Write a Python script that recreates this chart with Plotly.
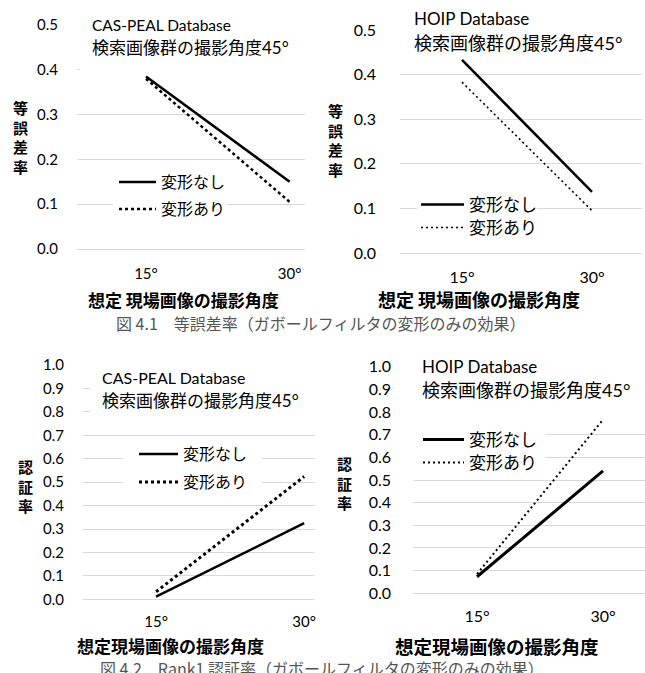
import plotly.graph_objects as go

# ---------------- data ----------------
angles = [15, 30]
angle_labels = ["15°", "30°"]
series_names = ["変形なし", "変形あり"]

eer_caspeal_nodeform = [0.385, 0.150]
eer_caspeal_deform = [0.380, 0.105]
eer_hoip_nodeform = [0.433, 0.137]
eer_hoip_deform = [0.383, 0.095]

rank1_caspeal_nodeform = [0.011, 0.325]
rank1_caspeal_deform = [0.032, 0.524]
rank1_hoip_nodeform = [0.073, 0.540]
rank1_hoip_deform = [0.085, 0.766]

eer_ticks = [0.0, 0.1, 0.2, 0.3, 0.4, 0.5]
rank1_ticks = [0.0, 0.1, 0.2, 0.3, 0.4, 0.5, 0.6, 0.7, 0.8, 0.9, 1.0]

db_caspeal = "CAS-PEAL Database"
db_hoip = "HOIP Database"
query_text = "検索画像群の撮影角度45°"
xtitle_a = "想定 現場画像の撮影角度"
xtitle_b = "想定現場画像の撮影角度"
ytitle_eer = "等誤差率"
ytitle_rank1 = "認証率"
caption1 = "図 4.1　等誤差率（ガボールフィルタの変形のみの効果）"
caption2 = "図 4.2　Rank1 認証率（ガボールフィルタの変形のみの効果）"

# ---------------- layout helpers ----------------
W, H = 645, 673
LAT = "Lato, 'Noto Sans CJK JP', sans-serif"
CJK = "'Noto Sans CJK JP', sans-serif"


def fx(p):
    return p / W


def fy(p):
    return 1 - p / H


panels = [
    dict(l=77, r=305, t=25, b=249, xr=[7.8, 31.6], ymax=0.5,
         solid=eer_caspeal_nodeform, dot=eer_caspeal_deform, ticks=eer_ticks,
         sw=2.5, dw=2.5, dash="dot", tfs=15, xstand=14, ystand=18,
         db=db_caspeal, db_xy=(90, 25), q_xy=(90, 48), afs=15.5, qfs=17,
         xt=xtitle_a, xt_xy=(183, 299), xtfs=17,
         yt=ytitle_eer, yt_xy=(20, 137), ytfs=15,
         leg_x=114, leg_rows=(182, 209), iw=37, lfs=16,
         covers=[(80, 10, 307, 73), (113, 168, 227, 222)]),
    dict(l=400, r=642, t=30, b=253, xr=[7.85, 35.77], ymax=0.5,
         solid=eer_hoip_nodeform, dot=eer_hoip_deform, ticks=eer_ticks,
         sw=2.5, dw=1.6, dash="2px,3px", tfs=16, xstand=13, ystand=23,
         db=db_hoip, db_xy=(412, 18), q_xy=(412, 43), afs=17, qfs=18,
         xt=xtitle_a, xt_xy=(479, 299), xtfs=18,
         yt=ytitle_eer, yt_xy=(335, 140), ytfs=15,
         leg_x=416, leg_rows=(205, 228), iw=43, lfs=17,
         covers=[(417, 195, 537, 238)]),
    dict(l=83, r=315, t=365, b=599.3, xr=[7.6, 31.1], ymax=1.0,
         solid=rank1_caspeal_nodeform, dot=rank1_caspeal_deform, ticks=rank1_ticks,
         sw=2.5, dw=3, dash="dot", tfs=15, xstand=12, ystand=18,
         db=db_caspeal, db_xy=(100, 377), q_xy=(100, 400), afs=16, qfs=17,
         xt=xtitle_b, xt_xy=(170, 645), xtfs=17,
         yt=ytitle_rank1, yt_xy=(25, 486), ytfs=15,
         leg_x=134, leg_rows=(454, 482), iw=39, lfs=16,
         covers=[(90, 355, 317, 424), (123, 443, 262, 494)]),
    dict(l=413, r=645, t=366.7, b=593.3, xr=[7.38, 35.0], ymax=1.0,
         solid=rank1_hoip_nodeform, dot=rank1_hoip_deform, ticks=rank1_ticks,
         sw=3, dw=2, dash="2px,3px", tfs=16, xstand=12, ystand=21,
         db=db_hoip, db_xy=(420, 367), q_xy=(420, 390), afs=17, qfs=18,
         xt=xtitle_b, xt_xy=(497, 646), xtfs=18.5,
         yt=ytitle_rank1, yt_xy=(345, 483), ytfs=15,
         leg_x=418, leg_rows=(440, 463), iw=41, lfs=17,
         covers=[(405, 355, 645, 416), (405, 425, 545, 472)]),
]

fig = go.Figure()
annotations = []
shapes = []
layout = dict(
    width=W, height=H,
    margin=dict(l=0, r=0, t=0, b=0, autoexpand=False),
    paper_bgcolor="white", plot_bgcolor="white",
    font=dict(family=LAT, color="black"),
)

for i, p in enumerate(panels):
    n = i + 1
    xa = "x" if n == 1 else f"x{n}"
    ya = "y" if n == 1 else f"y{n}"
    leg_a = "legend" if n == 1 else f"legend{2 * n - 1}"
    leg_b = f"legend{2 * n}"

    fig.add_trace(go.Scatter(
        x=angles, y=p["solid"], mode="lines", name=series_names[0],
        line=dict(color="black", width=p["sw"]),
        xaxis=xa, yaxis=ya, legend=leg_a))
    fig.add_trace(go.Scatter(
        x=angles, y=p["dot"], mode="lines", name=series_names[1],
        line=dict(color="black", width=p["dw"], dash=p["dash"]),
        xaxis=xa, yaxis=ya, legend=leg_b))

    xkey = "xaxis" if n == 1 else f"xaxis{n}"
    ykey = "yaxis" if n == 1 else f"yaxis{n}"
    layout[xkey] = dict(
        domain=[fx(p["l"]), fx(p["r"])], range=p["xr"], anchor=ya,
        tickmode="array", tickvals=angles, ticktext=angle_labels,
        showgrid=False, zeroline=False, showline=False, ticks="",
        tickfont=dict(size=p["tfs"], family=LAT, color="black"),
        ticklabelstandoff=p["xstand"], fixedrange=True)
    layout[ykey] = dict(
        domain=[fy(p["b"]), fy(p["t"])], range=[0, p["ymax"]], anchor=xa,
        tickmode="array", tickvals=p["ticks"],
        ticktext=[f"{v:.1f}" for v in p["ticks"]],
        showgrid=True, gridcolor="#d9d9d9", gridwidth=1,
        zeroline=True, zerolinecolor="#d9d9d9", zerolinewidth=1,
        showline=False, ticks="",
        tickfont=dict(size=p["tfs"], family=LAT, color="black"),
        ticklabelstandoff=p["ystand"], fixedrange=True)

    for leg, row in zip((leg_a, leg_b), p["leg_rows"]):
        layout[leg] = dict(
            x=fx(p["leg_x"]), y=fy(row), xanchor="left", yanchor="middle",
            bgcolor="rgba(0,0,0,0)", borderwidth=0, itemwidth=p["iw"],
            font=dict(size=p["lfs"], family=CJK, color="black"))

    # white boxes behind the text blocks, hiding gridlines as in the original
    for (x0, y0, x1, y1) in p["covers"]:
        shapes.append(dict(
            type="rect", xref="paper", yref="paper",
            x0=fx(x0), x1=fx(x1), y0=fy(y1), y1=fy(y0),
            fillcolor="white", line=dict(width=0), layer="above"))

    annotations.append(dict(
        text=p["db"], x=fx(p["db_xy"][0]), y=fy(p["db_xy"][1]),
        xref="paper", yref="paper", xanchor="left", yanchor="middle",
        showarrow=False, font=dict(size=p["afs"], family=LAT, color="black")))
    annotations.append(dict(
        text=query_text, x=fx(p["q_xy"][0]), y=fy(p["q_xy"][1]),
        xref="paper", yref="paper", xanchor="left", yanchor="middle",
        showarrow=False, font=dict(size=p["qfs"], family=LAT, color="black")))
    annotations.append(dict(
        text=f"<b>{p['xt']}</b>", x=fx(p["xt_xy"][0]), y=fy(p["xt_xy"][1]),
        xref="paper", yref="paper", xanchor="center", yanchor="middle",
        showarrow=False, font=dict(size=p["xtfs"], family=CJK, color="black")))
    annotations.append(dict(
        text="<br>".join(f"<b>{ch}</b>" for ch in p["yt"]),
        x=fx(p["yt_xy"][0]), y=fy(p["yt_xy"][1]),
        xref="paper", yref="paper", xanchor="center", yanchor="middle",
        showarrow=False, font=dict(size=p["ytfs"], family=CJK, color="black")))

annotations.append(dict(
    text=caption1, x=fx(320), y=fy(323), xref="paper", yref="paper",
    xanchor="center", yanchor="middle", showarrow=False,
    font=dict(size=16, family=CJK, color="#555555")))
annotations.append(dict(
    text=caption2, x=fx(322), y=fy(668), xref="paper", yref="paper",
    xanchor="center", yanchor="middle", showarrow=False,
    font=dict(size=16, family=CJK, color="#555555")))

layout["annotations"] = annotations
layout["shapes"] = shapes
layout["showlegend"] = True
fig.update_layout(**layout)

fig.write_html("out.html", config=dict(displayModeBar=False))
